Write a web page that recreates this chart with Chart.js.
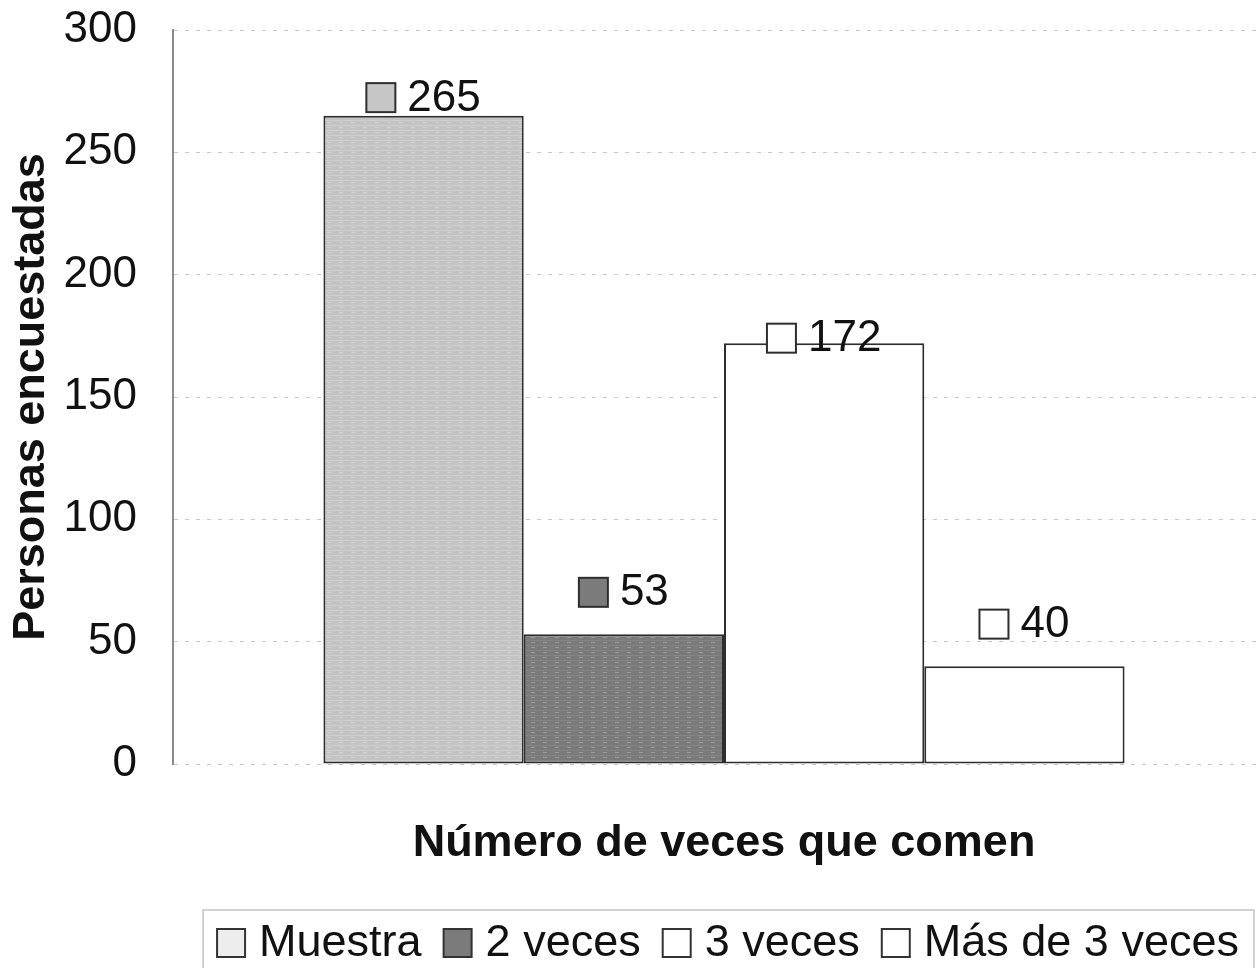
<!DOCTYPE html>
<html>
<head>
<meta charset="utf-8">
<script src="https://cdn.jsdelivr.net/npm/chart.js@4.4.1/dist/chart.umd.min.js"></script>
<style>
  html, body { margin: 0; padding: 0; background: #ffffff; overflow: hidden; }
  #wrap { width: 1259px; height: 968px; overflow: hidden; position: relative; }
  canvas { display: block; }
</style>
</head>
<body>
<div id="wrap"><canvas id="c" width="1275" height="968"></canvas></div>
<script>
// ---- data ----
const categories = [''];
const seriesNames = ['Muestra', '2 veces', '3 veces', 'Más de 3 veces'];
const seriesValues = [265, 53, 172, 40];
const yTickMin = 0;
const yTickMax = 300;
const yTickStep = 50;
const xTitle = 'Número de veces que comen';
const yTitle = 'Personas encuestadas';

// ---- styles ----
const FONT = "'Liberation Sans', Arial, Helvetica, sans-serif";
Chart.defaults.font.family = FONT;
Chart.defaults.color = '#111';

function makePattern(base, line) {
  const p = document.createElement('canvas');
  p.width = 12; p.height = 5;
  const g = p.getContext('2d');
  g.fillStyle = base; g.fillRect(0, 0, 12, 5);
  g.fillStyle = line; g.fillRect(0, 0, 12, 1);
  g.fillStyle = 'rgba(255,255,255,0.25)'; g.fillRect(3, 2, 4, 1);
  return document.getElementById('c').getContext('2d').createPattern(p, 'repeat');
}
const barFills = [makePattern('#c3c3c3', '#cfcfcf'), makePattern('#7a7a7a', '#848484'), '#ffffff', '#ffffff'];
const keyFills = ['#c6c6c6', '#7b7b7b', '#ffffff', '#ffffff'];
const legendFills = ['#ededed', '#7b7b7b', '#ffffff', '#ffffff'];

const datasets = seriesNames.map((name, i) => ({
  label: name,
  data: [seriesValues[i]],
  backgroundColor: barFills[i],
  borderColor: '#2e2e2e',
  borderWidth: 2,
  borderSkipped: false,
  categoryPercentage: 0.727,
  barPercentage: 1.0
}));

const valueLabels = {
  id: 'valueLabels',
  afterDatasetsDraw(chart, args, opts) {
    const ctx = chart.ctx;
    ctx.save();
    ctx.font = '44px ' + FONT;
    ctx.textBaseline = 'middle';
    ctx.textAlign = 'left';
    chart.data.datasets.forEach((ds, i) => {
      const el = chart.getDatasetMeta(i).data[0];
      const txt = String(ds.data[0]);
      const box = 29, gap = 12;
      const tw = ctx.measureText(txt).width;
      const total = box + gap + tw;
      const cy = el.y - opts.lift[i];
      const x0 = el.x - total / 2;
      ctx.fillStyle = keyFills[i];
      ctx.fillRect(x0, cy - box / 2, box, box);
      ctx.lineWidth = 2;
      ctx.strokeStyle = '#2e2e2e';
      ctx.strokeRect(x0, cy - box / 2, box, box);
      ctx.fillStyle = '#111';
      ctx.fillText(txt, x0 + box + gap, cy + 1);
    });
    ctx.restore();
  }
};

const customLegend = {
  id: 'customLegend',
  afterDraw(chart, args, opts) {
    const ctx = chart.ctx;
    ctx.save();
    ctx.font = '45px ' + FONT;
    ctx.textBaseline = 'middle';
    ctx.textAlign = 'left';
    const box = 28, boxGap = 14, itemGap = 22;
    const widths = seriesNames.map(n => ctx.measureText(n).width);
    let total = 0;
    widths.forEach((w, i) => { total += box + boxGap + w + (i < widths.length - 1 ? itemGap : 0); });
    const ca = chart.chartArea;
    const cx = (ca.left + ca.right) / 2 + 4;
    const cy = opts.centerY;
    let x = cx - total / 2;
    ctx.strokeStyle = '#c4c4c4';
    ctx.lineWidth = 1.5;
    ctx.strokeRect(x - 14, cy - 33, total + 29, 80);
    seriesNames.forEach((n, i) => {
      ctx.fillStyle = legendFills[i];
      ctx.fillRect(x, cy - box / 2, box, box);
      ctx.lineWidth = 2;
      ctx.strokeStyle = '#333';
      ctx.strokeRect(x, cy - box / 2, box, box);
      ctx.fillStyle = '#111';
      ctx.fillText(n, x + box + boxGap, cy + 1);
      x += box + boxGap + widths[i] + itemGap;
    });
    ctx.restore();
  }
};

new Chart(document.getElementById('c'), {
  type: 'bar',
  data: { labels: categories, datasets },
  plugins: [valueLabels, customLegend],
  options: {
    responsive: false,
    animation: false,
    layout: { padding: { top: 0, right: 0, bottom: 87, left: 0 } },
    plugins: {
      legend: { display: false },
      tooltip: { enabled: false },
      valueLabels: { lift: [18, 42, 5, 42] },
      customLegend: { centerY: 943 }
    },
    scales: {
      x: {
        grid: { display: false },
        border: { display: false },
        ticks: { display: false },
        title: {
          display: true,
          text: xTitle,
          font: { size: 45, weight: 'bold' },
          color: '#111',
          padding: { top: 45, bottom: 10 }
        }
      },
      y: {
        min: yTickMin,
        max: yTickMax,
        ticks: { stepSize: yTickStep, padding: 36, font: { size: 44 }, color: '#111' },
        grid: { color: '#c8c8c8', lineWidth: 1, drawTicks: false },
        border: { display: true, color: '#8a8a8a', width: 2, dash: [4, 7] },
        title: {
          display: true,
          text: yTitle,
          font: { size: 45, weight: 'bold' },
          color: '#111',
          padding: { top: 5, bottom: 0 }
        },
        afterFit(scale) {
          scale.width = 173;
          scale.paddingTop = 30;
          scale.paddingBottom = 0;
        }
      }
    }
  }
});
</script>
</body>
</html>
